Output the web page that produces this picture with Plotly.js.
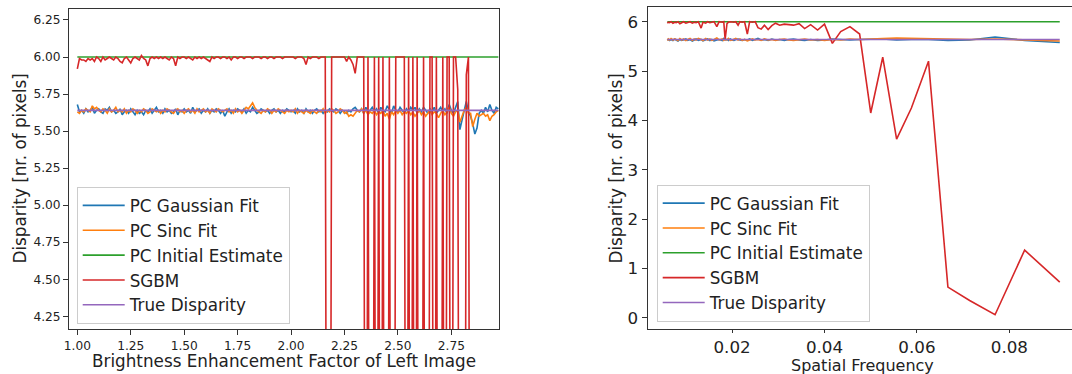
<!DOCTYPE html>
<html>
<head>
<meta charset="utf-8">
<script src="https://cdn.plot.ly/plotly-3.0.1.min.js"></script>
<style>html,body{margin:0;padding:0;background:#fff;}#chart{width:1072px;height:374px;}</style>
</head>
<body>
<div id="chart"></div>
<script>
// ---------- Left panel: brightness enhancement ----------
const brightness = [
1.00,1.01,1.02,1.03,1.04,1.05,1.06,1.07,1.08,1.09,
1.10,1.11,1.12,1.13,1.14,1.15,1.16,1.17,1.18,1.19,
1.20,1.21,1.22,1.23,1.24,1.25,1.26,1.27,1.28,1.29,
1.30,1.31,1.32,1.33,1.34,1.35,1.36,1.37,1.38,1.39,
1.40,1.41,1.42,1.43,1.44,1.45,1.46,1.47,1.48,1.49,
1.50,1.51,1.52,1.53,1.54,1.55,1.56,1.57,1.58,1.59,
1.60,1.61,1.62,1.63,1.64,1.65,1.66,1.67,1.68,1.69,
1.70,1.71,1.72,1.73,1.74,1.75,1.76,1.77,1.78,1.79,
1.80,1.81,1.82,1.83,1.84,1.85,1.86,1.87,1.88,1.89,
1.90,1.91,1.92,1.93,1.94,1.95,1.96,1.97,1.98,1.99,
2.00,2.01,2.02,2.03,2.04,2.05,2.06,2.07,2.08,2.09,
2.10,2.11,2.12,2.13,2.14,2.15,2.16,2.17,2.18,2.19,
2.20,2.21,2.22,2.23,2.24,2.25,2.26,2.27,2.28,2.29,
2.30,2.31,2.32,2.33,2.34,2.35,2.36,2.37,2.38,2.39,
2.40,2.41,2.42,2.43,2.44,2.45,2.46,2.47,2.48,2.49,
2.50,2.51,2.52,2.53,2.54,2.55,2.56,2.57,2.58,2.59,
2.60,2.61,2.62,2.63,2.64,2.65,2.66,2.67,2.68,2.69,
2.70,2.71,2.72,2.73,2.74,2.75,2.76,2.77,2.78,2.79,
2.80,2.81,2.82,2.83,2.84,2.85,2.86,2.87,2.88,2.89,
2.90,2.91,2.92,2.93,2.94,2.95,2.96,2.97];

const gaussLeft = [
5.68,5.63,5.64,5.62,5.65,5.63,5.64,5.66,5.62,5.64,
5.65,5.63,5.62,5.65,5.64,5.66,5.63,5.64,5.62,5.63,
5.65,5.61,5.63,5.64,5.62,5.65,5.63,5.61,5.64,5.62,
5.63,5.61,5.64,5.63,5.65,5.62,5.64,5.66,5.63,5.64,
5.62,5.65,5.63,5.64,5.62,5.63,5.65,5.61,5.64,5.63,
5.65,5.63,5.64,5.62,5.66,5.63,5.64,5.65,5.62,5.64,
5.63,5.65,5.62,5.64,5.63,5.65,5.64,5.62,5.64,5.60,
5.63,5.65,5.62,5.64,5.63,5.65,5.64,5.63,5.65,5.62,
5.64,5.63,5.66,5.64,5.62,5.63,5.65,5.64,5.63,5.64,
5.62,5.64,5.65,5.63,5.64,5.62,5.64,5.63,5.65,5.64,
5.63,5.64,5.62,5.65,5.63,5.64,5.62,5.65,5.63,5.64,
5.62,5.64,5.65,5.63,5.64,5.62,5.64,5.63,5.65,5.64,
5.63,5.65,5.64,5.62,5.64,5.63,5.62,5.64,5.63,5.65,
5.66,5.64,5.63,5.65,5.62,5.66,5.63,5.64,5.66,5.63,
5.65,5.62,5.66,5.64,5.63,5.67,5.64,5.62,5.67,5.64,
5.63,5.66,5.64,5.62,5.65,5.63,5.66,5.64,5.66,5.62,
5.65,5.63,5.66,5.64,5.62,5.65,5.63,5.66,5.62,5.64,
5.66,5.63,5.65,5.62,5.68,5.64,5.62,5.66,5.70,5.51,
5.58,5.64,5.70,5.63,5.60,5.55,5.48,5.52,5.62,5.64,
5.62,5.66,5.63,5.68,5.64,5.62,5.66,5.65];

const sincLeft = [
5.63,5.62,5.64,5.63,5.65,5.64,5.63,5.67,5.65,5.66,
5.64,5.63,5.65,5.64,5.62,5.65,5.63,5.64,5.66,5.63,
5.64,5.63,5.65,5.62,5.64,5.63,5.65,5.64,5.62,5.64,
5.63,5.65,5.64,5.62,5.63,5.65,5.64,5.63,5.64,5.62,
5.64,5.63,5.65,5.64,5.63,5.62,5.64,5.65,5.63,5.64,
5.62,5.64,5.65,5.63,5.64,5.62,5.65,5.63,5.64,5.65,
5.63,5.64,5.62,5.65,5.64,5.63,5.65,5.64,5.63,5.64,
5.65,5.63,5.64,5.62,5.65,5.63,5.64,5.62,5.64,5.66,
5.65,5.67,5.69,5.66,5.64,5.63,5.62,5.64,5.63,5.65,
5.64,5.62,5.64,5.63,5.65,5.64,5.63,5.62,5.64,5.63,
5.64,5.63,5.65,5.62,5.64,5.63,5.62,5.64,5.63,5.62,
5.64,5.63,5.62,5.64,5.63,5.65,5.62,5.64,5.63,5.65,
5.64,5.62,5.63,5.65,5.64,5.62,5.63,5.60,5.61,5.60,
5.62,5.64,5.63,5.65,5.62,5.64,5.61,5.63,5.62,5.64,
5.61,5.63,5.62,5.64,5.60,5.62,5.58,5.63,5.61,5.64,
5.62,5.64,5.61,5.63,5.62,5.64,5.61,5.63,5.60,5.62,
5.64,5.61,5.63,5.60,5.62,5.64,5.61,5.63,5.62,5.59,
5.62,5.64,5.61,5.63,5.66,5.62,5.60,5.63,5.64,5.56,
5.60,5.64,5.66,5.62,5.62,5.53,5.58,5.62,5.60,5.61,
5.62,5.60,5.61,5.57,5.60,5.61,5.63,5.64];

const sgbmLeft = [
5.92,5.99,5.98,5.98,5.97,5.99,5.98,5.99,5.97,6.00,
5.99,5.97,6.00,5.98,5.99,6.00,5.99,5.98,6.00,5.99,
5.97,5.96,5.99,6.00,5.98,5.96,5.99,6.00,5.99,5.98,
6.01,5.99,5.98,5.94,5.99,6.00,5.99,6.00,5.99,6.00,
5.99,6.00,5.99,5.98,6.00,5.99,5.94,6.00,5.99,6.00,
6.00,5.99,6.00,5.99,5.98,6.00,5.99,6.00,5.99,6.00,
5.99,5.98,5.97,6.00,5.99,6.00,6.00,5.99,6.00,6.00,
5.99,6.00,5.98,6.00,6.00,5.99,6.00,6.00,5.99,6.00,
6.00,6.00,5.99,6.00,6.00,6.00,5.99,6.00,6.00,5.99,
6.00,6.00,5.99,6.00,6.00,6.00,5.99,6.00,6.00,6.00,
6.00,6.00,5.99,6.00,6.00,6.00,5.99,5.95,6.00,5.99,
6.00,6.00,6.00,5.99,6.00,6.00,6.00,0,0,6.00,
6.00,6.00,6.00,6.00,6.00,6.00,5.97,6.00,5.98,5.95,
5.89,6.00,6.00,6.00,6.00,0,6.00,0,0,6.00,
0,6.00,0,6.00,0,0,6.00,0,0,6.00,
6.00,6.00,6.00,6.00,0,6.00,0,6.00,0,6.00,
0,0,6.00,0,0,6.00,6.00,0,6.00,0,
0,6.00,0,6.00,6.00,0,6.00,6.00,5.78,0,
0,0,5.88,6.00,0,0,0,0,0,0,
0,0,0,0,0,0,0,0];

const brightnessEnds = [1.00, 2.97];
const initialLeft = [6.00, 6.00];
const trueLeft = [5.64, 5.64];

// ---------- Right panel: spatial frequency ----------
const freq = [
0.0909,0.0833,0.0769,0.0714,0.0667,0.0625,0.0588,0.0556,0.0526,0.0500,
0.0476,0.0455,0.0435,0.0417,0.0400,0.0385,0.0370,0.0357,0.0345,0.0333,
0.0323,0.0313,0.0303,0.0294,0.0286,0.0278,0.0270,0.0263,0.0256,0.0250,
0.0244,0.0238,0.0233,0.0227,0.0222,0.0217,0.0213,0.0208,0.0204,0.0200,
0.0196,0.0192,0.0189,0.0185,0.0182,0.0179,0.0172,0.0167,0.0161,0.0156,
0.0152,0.0147,0.0143,0.0137,0.0133,0.0127,0.0122,0.0118,0.0114,0.0109,
0.0104,0.0100,0.0095,0.0091,0.0087,0.0083,0.0079,0.0076,0.0072,0.0068,
0.0065,0.0062,0.0060];

const sgbmRight = [
0.72,1.37,0.06,0.35,0.62,5.20,4.25,3.62,5.28,4.15,
5.75,5.90,5.80,5.56,5.95,5.83,5.94,5.86,5.96,5.93,
5.94,5.95,5.93,5.97,5.92,5.84,5.93,5.85,5.88,6.00,
5.99,6.00,5.75,6.00,5.99,6.00,5.93,6.00,5.99,6.00,
6.00,5.99,5.96,5.64,6.00,5.99,6.00,5.90,6.00,5.99,
5.98,6.00,5.97,5.99,5.87,6.00,5.98,5.99,5.97,6.00,
5.99,5.97,6.00,5.98,5.96,6.00,5.98,5.99,5.97,6.00,
5.98,5.99,5.97];

const gaussRight = [
5.58,5.62,5.69,5.63,5.62,5.64,5.64,5.63,5.65,5.65,
5.64,5.63,5.64,5.65,5.63,5.62,5.64,5.62,5.63,5.65,
5.64,5.62,5.64,5.63,5.65,5.62,5.64,5.63,5.66,5.64,
5.62,5.65,5.63,5.64,5.62,5.63,5.65,5.64,5.62,5.63,
5.65,5.62,5.64,5.63,5.66,5.62,5.64,5.63,5.61,5.64,
5.62,5.65,5.63,5.61,5.64,5.62,5.65,5.63,5.61,5.64,
5.62,5.65,5.63,5.62,5.64,5.61,5.63,5.65,5.62,5.64,
5.62,5.64,5.63];

const sincRight = [
5.61,5.63,5.65,5.64,5.65,5.66,5.66,5.67,5.66,5.65,
5.64,5.65,5.63,5.64,5.62,5.64,5.63,5.65,5.64,5.62,
5.63,5.65,5.64,5.62,5.64,5.63,5.65,5.62,5.64,5.63,
5.65,5.63,5.61,5.64,5.62,5.65,5.63,5.66,5.64,5.63,
5.62,5.66,5.63,5.64,5.62,5.65,5.63,5.67,5.64,5.62,
5.65,5.63,5.66,5.62,5.64,5.66,5.63,5.65,5.62,5.66,
5.64,5.62,5.65,5.63,5.66,5.62,5.64,5.65,5.63,5.66,
5.63,5.65,5.62];

const freqEnds = [0.0060, 0.0909];
const initialRight = [6.00, 6.00];
const trueRight = [5.64, 5.64];

const seriesNames = ['PC Gaussian Fit','PC Sinc Fit','PC Initial Estimate','SGBM','True Disparity'];
const colors = ['#1f77b4','#ff7f0e','#2ca02c','#d62728','#9467bd'];
const titleLeftX = 'Brightness Enhancement Factor of Left Image';
const titleRightX = 'Spatial Frequency';
const titleY = 'Disparity [nr. of pixels]';

const W = 1072, H = 374;
const lw = 1.6;
const font = 'DejaVu Sans, sans-serif';

function tr(x, y, i, xa, ya, leg) {
  return {x: x, y: y, type: 'scatter', mode: 'lines', name: seriesNames[i],
    line: {color: colors[i], width: lw}, xaxis: xa, yaxis: ya, legend: leg,
    hoverinfo: 'skip'};
}

const data = [
  tr(brightness, gaussLeft, 0, 'x', 'y', 'legend'),
  tr(brightness, sincLeft, 1, 'x', 'y', 'legend'),
  tr(brightnessEnds, initialLeft, 2, 'x', 'y', 'legend'),
  tr(brightness, sgbmLeft, 3, 'x', 'y', 'legend'),
  tr(brightnessEnds, trueLeft, 4, 'x', 'y', 'legend'),
  tr(freq, gaussRight, 0, 'x2', 'y2', 'legend2'),
  tr(freq, sincRight, 1, 'x2', 'y2', 'legend2'),
  tr(freqEnds, initialRight, 2, 'x2', 'y2', 'legend2'),
  tr(freq, sgbmRight, 3, 'x2', 'y2', 'legend2'),
  tr(freqEnds, trueRight, 4, 'x2', 'y2', 'legend2')
];

const axisBase = {showgrid: false, zeroline: false, showline: true, linecolor: '#333', linewidth: 1,
  ticks: 'outside', ticklen: 5, tickwidth: 1, tickcolor: '#333'};

function ttl(text, px, py, angle, size) {
  return {text: text, xref: 'paper', yref: 'paper', x: px / W, y: 1 - py / H,
    xanchor: 'center', yanchor: 'middle', showarrow: false, textangle: angle, borderpad: 0,
    font: {size: size, family: font, color: '#222'}};
}

const layout = {
  width: W, height: H,
  margin: {l: 0, r: 0, t: 0, b: 0},
  paper_bgcolor: '#fff', plot_bgcolor: '#fff',
  font: {family: font, color: '#222'},
  showlegend: true,
  xaxis: Object.assign({}, axisBase, {
    domain: [69/W, 499/W], range: [0.961, 2.973], anchor: 'y', mirror: true,
    tickvals: [1.00,1.25,1.50,1.75,2.00,2.25,2.50,2.75], tickformat: '.2f',
    tickfont: {size: 12.2}
  }),
  yaxis: Object.assign({}, axisBase, {
    domain: [45/H, 365/H], range: [4.164, 6.324], anchor: 'x', mirror: true,
    tickvals: [4.25,4.50,4.75,5.00,5.25,5.50,5.75,6.00,6.25], tickformat: '.2f',
    tickfont: {size: 12.2}
  }),
  xaxis2: Object.assign({}, axisBase, {
    domain: [647.5/W, 1], range: [0.0017, 0.09355], anchor: 'y2', mirror: true,
    tickvals: [0.02,0.04,0.06,0.08], tickformat: '.2f', ticklen: 3,
    tickfont: {size: 16.7}
  }),
  yaxis2: Object.assign({}, axisBase, {
    domain: [45/H, 366.7/H], range: [-0.229, 6.292], anchor: 'x2', mirror: false,
    tickvals: [0,1,2,3,4,5,6],
    tickfont: {size: 16.7}
  }),
  annotations: [
    ttl(titleLeftX, 284, 361, 0, 16.8),
    ttl(titleY, 19, 168.5, -90, 16.8),
    ttl(titleRightX, 862, 365, 0, 16),
    ttl(titleY, 615, 168.5, -90, 16.8)
  ],
  legend: {x: 76.7/W, y: (H-324)/H, xanchor: 'left', yanchor: 'bottom', itemwidth: 42,
    font: {size: 16.8, family: font, color: '#222'}, bgcolor: 'rgba(255,255,255,0.8)',
    bordercolor: '#cccccc', borderwidth: 1},
  legend2: {x: 656.7/W, y: (H-321.7)/H, xanchor: 'left', yanchor: 'bottom', itemwidth: 42,
    font: {size: 16.8, family: font, color: '#222'}, bgcolor: 'rgba(255,255,255,0.8)',
    bordercolor: '#cccccc', borderwidth: 1}
};

Plotly.newPlot('chart', data, layout, {displayModeBar: false, staticPlot: true});
</script>
</body>
</html>
